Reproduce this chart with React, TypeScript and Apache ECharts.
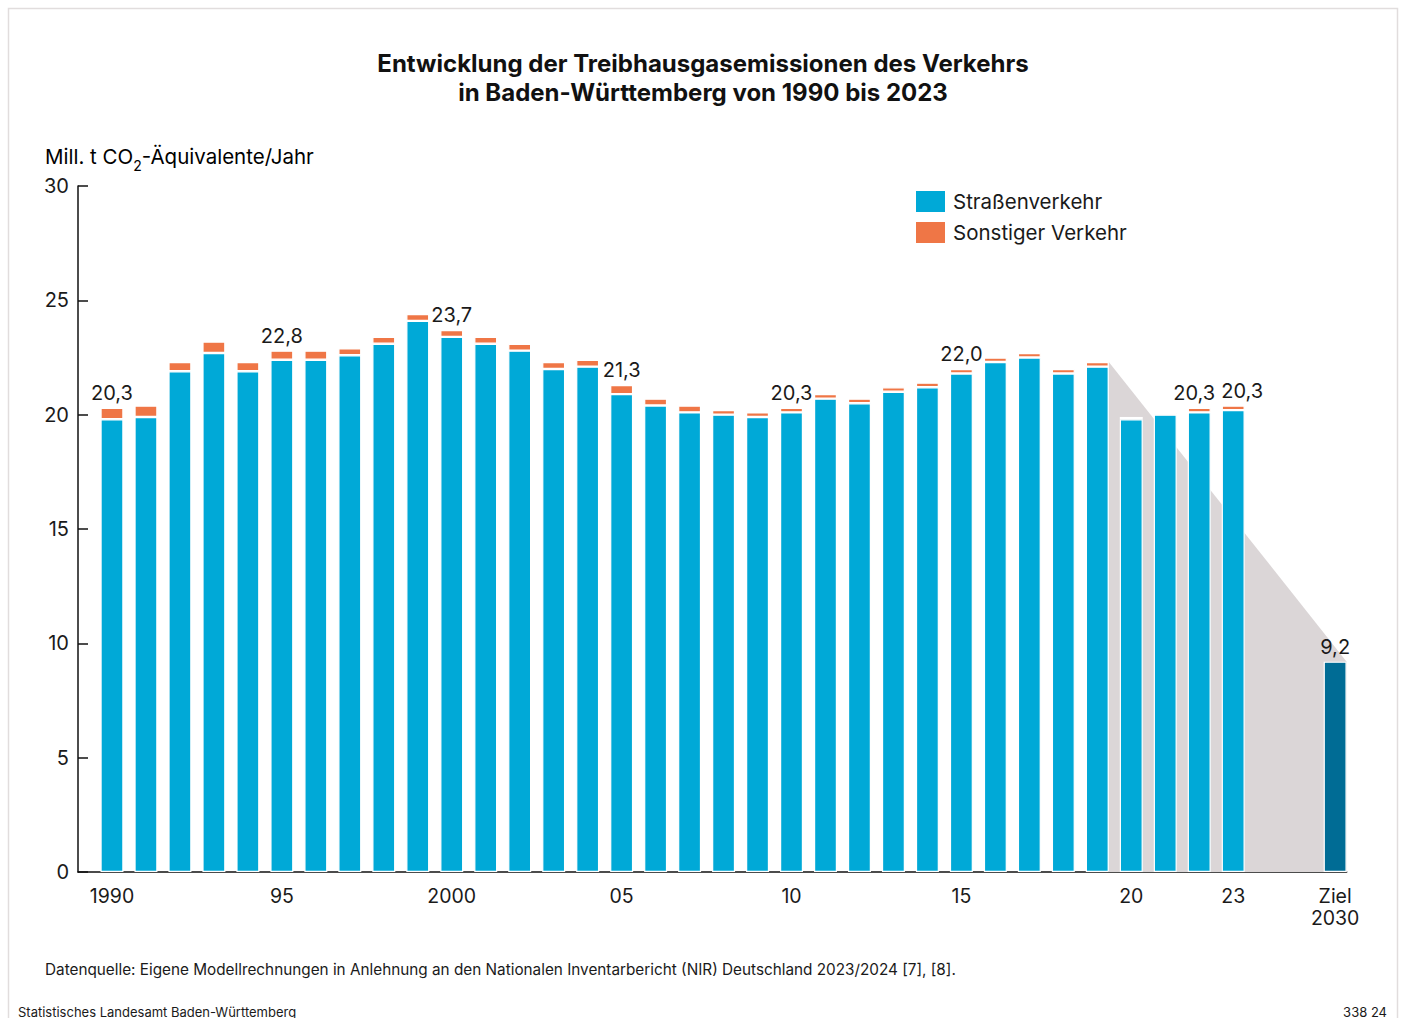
import React, { useEffect, useRef } from "react";
import * as echarts from "echarts";

const years = [
  1990, 1991, 1992, 1993, 1994, 1995, 1996, 1997, 1998, 1999,
  2000, 2001, 2002, 2003, 2004, 2005, 2006, 2007, 2008, 2009,
  2010, 2011, 2012, 2013, 2014, 2015, 2016, 2017, 2018, 2019,
  2020, 2021, 2022, 2023,
];
const strassenverkehr = [
  19.8, 19.9, 21.9, 22.7, 21.9, 22.4, 22.4, 22.6, 23.1, 24.1,
  23.4, 23.1, 22.8, 22.0, 22.1, 20.9, 20.4, 20.1, 20.0, 19.9,
  20.1, 20.7, 20.5, 21.0, 21.2, 21.8, 22.3, 22.5, 21.8, 22.1,
  19.8, 20.0, 20.1, 20.2,
];
const sonstigerVerkehr = [
  0.5, 0.5, 0.4, 0.5, 0.4, 0.4, 0.4, 0.3, 0.3, 0.3,
  0.3, 0.3, 0.3, 0.3, 0.3, 0.4, 0.3, 0.3, 0.2, 0.2,
  0.2, 0.2, 0.2, 0.2, 0.2, 0.2, 0.2, 0.2, 0.2, 0.2,
  0.1, 0.1, 0.2, 0.2,
];
const zielIndex = 36; // 2030 target slot (after two empty slots)
const zielValue = 9.2;
const labelYears = [1990, 1995, 2000, 2005, 2010, 2015, 2022, 2023];
const labelTotals = [20.3, 22.8, 23.7, 21.3, 20.3, 22.0, 20.3, 20.3];
const trendStartYear = 2019;
const xTickLabels: Record<number, string> = {
  0: "1990", 5: "95", 10: "2000", 15: "05", 20: "10", 25: "15", 30: "20", 33: "23", 36: "Ziel\n2030",
};
const titleLines = [
  "Entwicklung der Treibhausgasemissionen des Verkehrs",
  "in Baden-Württemberg von 1990 bis 2023",
];

const FONT = "Inter, 'Noto Sans', sans-serif";
const BLUE = "#00a9d7";
const ORANGE = "#ef7646";
const DARK = "#006c95";
const GREY = "#dbd6d7";
const TEXT = "#1a1a1a";
const BAR_W = 23;

const fmt = (v: number) => v.toFixed(1).replace(".", ",");

export default function App() {
  const ref = useRef<HTMLDivElement>(null);
  useEffect(() => {
    if (!ref.current) return;
    const chart = echarts.init(ref.current, null, { renderer: "svg" });

    // data points are [value, xIndex] so that the value dimension is the stacked one
    const roadData: any[] = strassenverkehr.map((v, i) => [v, i]);
    roadData.push({
      value: [zielValue, zielIndex],
      itemStyle: { color: DARK },
      label: { show: true, formatter: fmt(zielValue) },
    });

    const labelOffsets: Record<number, number[]> = { 2022: [-5, 0], 2023: [9, 0] };
    const otherData: any[] = sonstigerVerkehr.map((v, i) => {
      const y = years[i];
      const li = labelYears.indexOf(y);
      if (li >= 0) {
        return {
          value: [v, i],
          label: {
            show: true,
            formatter: fmt(labelTotals[li]),
            offset: labelOffsets[y] || [0, 0],
          },
        };
      }
      return [v, i];
    });

    const ti = years.indexOf(trendStartYear);
    const trendStart = strassenverkehr[ti] + sonstigerVerkehr[ti];

    const labelStyle = {
      position: "top",
      distance: 5,
      fontFamily: FONT,
      fontSize: 20,
      color: TEXT,
    };

    chart.setOption({
      animation: false,
      backgroundColor: "#ffffff",
      legend: {
        left: 914,
        top: 189,
        padding: 0,
        orient: "vertical",
        itemWidth: 31,
        itemHeight: 23,
        itemGap: 6,
        icon: "rect",
        data: ["Straßenverkehr", "Sonstiger Verkehr"],
        textStyle: { fontFamily: FONT, fontSize: 20.5, lineHeight: 23, color: TEXT, padding: [0, 0, 0, 2] },
      },
      grid: { left: 78, right: 55.3, top: 186, bottom: 146, containLabel: false },
      xAxis: {
        type: "value",
        min: -1,
        max: 36.34,
        interval: 1,
        splitLine: { show: false },
        axisTick: { show: false },
        axisLine: { show: true, onZero: false, lineStyle: { color: "#111", width: 1.5 } },
        axisLabel: {
          margin: 13,
          fontFamily: FONT,
          fontSize: 19.5,
          lineHeight: 22,
          color: TEXT,
          verticalAlign: "top",
          formatter: (v: number) => xTickLabels[Math.round(v)] ?? "",
        },
      },
      yAxis: {
        type: "value",
        min: 0,
        max: 30,
        interval: 5,
        splitLine: { show: false },
        axisLine: { show: true, onZero: false, lineStyle: { color: "#111", width: 1.5 } },
        axisTick: { show: true, inside: true, length: 10, lineStyle: { color: "#111", width: 1.5 } },
        axisLabel: { margin: 9, fontFamily: FONT, fontSize: 20, color: TEXT },
      },
      series: [
        {
          type: "custom",
          name: "trend",
          z: 1,
          silent: true,
          data: [[ti, trendStart, zielIndex, zielValue]],
          encode: { x: [0, 2], y: [1, 3] },
          renderItem: (params: any, api: any) => {
            const a = api.coord([api.value(0), api.value(1)]);
            const b = api.coord([api.value(2), api.value(3)]);
            const a0 = api.coord([api.value(0), 0]);
            const b0 = api.coord([api.value(2), 0]);
            const h = BAR_W / 2;
            return {
              type: "polygon",
              shape: {
                points: [
                  [a[0] + h, a[1]],
                  [b[0] + h, b[1]],
                  [b0[0] + h, b0[1]],
                  [a0[0] + h, a0[1]],
                ],
              },
              style: { fill: GREY },
            };
          },
        },
        {
          type: "bar",
          name: "Straßenverkehr",
          stack: "total",
          z: 3,
          barWidth: BAR_W,
          encode: { x: 1, y: 0 },
          itemStyle: { color: BLUE, borderColor: "#ffffff", borderWidth: 1.2 },
          label: { show: false, ...labelStyle },
          data: roadData,
        },
        {
          type: "bar",
          name: "Sonstiger Verkehr",
          stack: "total",
          z: 3,
          barWidth: BAR_W,
          encode: { x: 1, y: 0 },
          itemStyle: { color: ORANGE, borderColor: "#ffffff", borderWidth: 1.2 },
          label: { show: false, ...labelStyle },
          data: otherData,
        },
      ],
      graphic: [
        {
          type: "rect",
          shape: { x: 8.5, y: 8.5, width: 1389, height: 1100 },
          style: { fill: "none", stroke: "#e1dddd", lineWidth: 1.5 },
          silent: true,
          z: 0,
        },
        ...titleLines.map((t, i) => ({
          type: "text",
          x: 703,
          y: 63.5 + i * 28.5,
          style: {
            text: t,
            fontFamily: FONT,
            fontSize: 24,
            fontWeight: "bold",
            fill: "#111",
            align: "center",
            verticalAlign: "middle",
          },
        })),
        {
          type: "text",
          left: 45,
          top: 146,
          style: {
            text: "{a|Mill. t CO}{s|2}{a|-Äquivalente/Jahr}",
            rich: {
              a: { fontFamily: FONT, fontSize: 20.5, color: TEXT, lineHeight: 25, verticalAlign: "bottom" },
              s: { fontFamily: FONT, fontSize: 14, color: TEXT, lineHeight: 25, verticalAlign: "bottom", padding: [0, 0, -5, 0] },
            },
          },
        },
        {
          type: "text",
          left: 45,
          top: 962,
          style: {
            text: "Datenquelle: Eigene Modellrechnungen in Anlehnung an den Nationalen Inventarbericht (NIR) Deutschland 2023/2024 [7], [8].",
            fontFamily: FONT,
            fontSize: 15.3,
            fill: TEXT,
          },
        },
        {
          type: "text",
          left: 18,
          top: 1005,
          style: { text: "Statistisches Landesamt Baden-Württemberg", fontFamily: FONT, fontSize: 13, fill: TEXT },
        },
        {
          type: "text",
          right: 15,
          top: 1005,
          style: { text: "338 24", fontFamily: FONT, fontSize: 13, fill: TEXT },
        },
      ],
    });
    return () => chart.dispose();
  }, []);
  return (
    <div
      ref={ref}
      style={{ position: "fixed", left: 0, top: 0, width: 1402, height: 1018, background: "#fff" }}
    />
  );
}
